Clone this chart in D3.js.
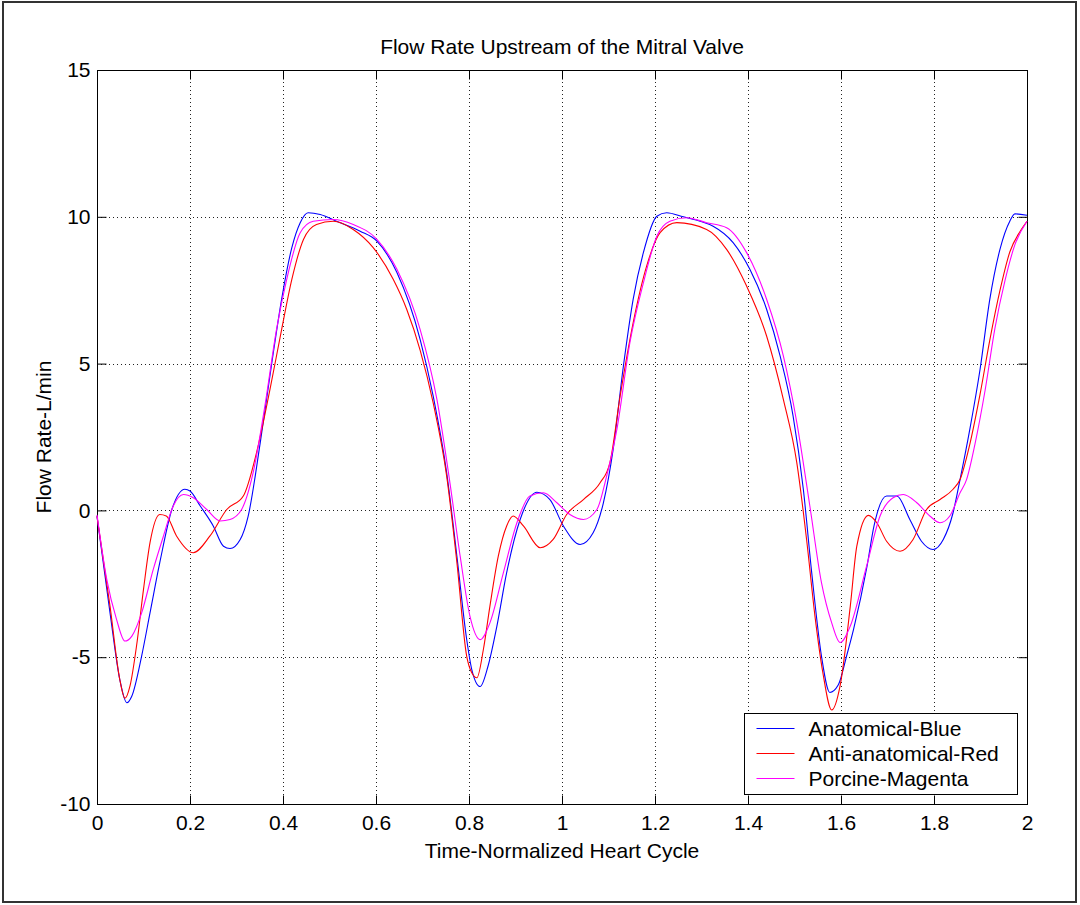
<!DOCTYPE html>
<html>
<head>
<meta charset="utf-8">
<script src="https://cdn.jsdelivr.net/npm/d3@7"></script>
<style>
  body { margin: 0; background: #fff; }
  svg { display: block; }
  text { font-family: "Liberation Sans", Arial, sans-serif; fill: #000; }
</style>
</head>
<body>
<div id="container"></div>
<script>
// values: [time, flow L/min]
var anatomical = [
  [0, -0.2], [0.028, -3.49], [0.049, -5.76], [0.064, -6.55], [0.075, -6.32], [0.096, -4.96],
  [0.114, -3.49], [0.135, -1.78], [0.161, 0.03], [0.189, 0.72], [0.2, 0.66], [0.222, 0.15],
  [0.25, -0.53], [0.272, -1.22], [0.286, -1.3], [0.308, -0.99], [0.325, -0.2], [0.351, 2.3],
  [0.376, 5.03], [0.397, 7.19], [0.419, 8.95], [0.437, 9.8], [0.454, 10.14], [0.48, 10.08],
  [0.515, 9.85], [0.566, 9.51], [0.602, 9.17], [0.645, 8.1], [0.695, 5.82], [0.723, 3.89],
  [0.752, 1.28], [0.774, -1.56], [0.795, -4.39], [0.806, -5.42], [0.824, -6.0], [0.841, -5.3],
  [0.86, -3.94], [0.881, -2.12], [0.91, -0.31], [0.946, 0.62], [0.974, 0.37], [1.003, -0.53],
  [1.039, -1.16], [1.067, -0.76], [1.089, 0.26], [1.11, 2.08], [1.132, 4.91], [1.153, 7.19],
  [1.175, 8.78], [1.204, 10.02], [1.225, 10.14], [1.261, 10.0], [1.297, 9.85], [1.325, 9.68],
  [1.368, 9.12], [1.404, 8.21], [1.44, 6.85], [1.469, 5.26], [1.497, 3.21], [1.519, 0.72],
  [1.537, -2.12], [1.558, -4.96], [1.576, -6.2], [1.594, -5.95], [1.613, -4.9], [1.627, -4.05],
  [1.656, -1.9], [1.671, -0.53], [1.698, 0.49], [1.72, 0.49], [1.748, -0.31], [1.773, -1.05],
  [1.798, -1.33], [1.82, -0.99], [1.841, -0.08], [1.856, 1.05], [1.877, 2.76], [1.899, 4.8],
  [1.92, 7.19], [1.942, 8.9], [1.963, 9.85], [1.974, 10.1], [2.0, 10.05]
];

var antiAnatomical = [
  [0, -0.2], [0.028, -3.26], [0.049, -5.76], [0.06, -6.4], [0.071, -5.98], [0.085, -4.62],
  [0.1, -2.69], [0.114, -1.1], [0.135, -0.14], [0.149, -0.19], [0.171, -0.87], [0.207, -1.44],
  [0.243, -0.87], [0.279, 0.03], [0.315, 0.5], [0.343, 1.96], [0.372, 4.12], [0.397, 6.16],
  [0.419, 7.87], [0.444, 9.23], [0.472, 9.74], [0.508, 9.85], [0.551, 9.57], [0.594, 8.95],
  [0.637, 7.87], [0.666, 6.85], [0.695, 5.45], [0.723, 3.66], [0.752, 1.17], [0.774, -1.78],
  [0.795, -4.96], [0.806, -5.53], [0.817, -5.7], [0.831, -4.73], [0.845, -3.26], [0.863, -1.56],
  [0.881, -0.53], [0.895, -0.19], [0.917, -0.53], [0.953, -1.27], [0.981, -0.99], [1.01, -0.14],
  [1.046, 0.37], [1.082, 0.94], [1.103, 1.62], [1.125, 3.89], [1.153, 6.39], [1.182, 8.32],
  [1.211, 9.46], [1.247, 9.8], [1.311, 9.57], [1.354, 8.89], [1.397, 7.64], [1.44, 5.94],
  [1.476, 3.78], [1.505, 1.62], [1.526, -0.99], [1.544, -3.6], [1.561, -5.53], [1.58, -6.8],
  [1.598, -5.98], [1.62, -3.26], [1.634, -1.22], [1.659, -0.17], [1.677, -0.42], [1.698, -1.05],
  [1.727, -1.39], [1.755, -0.99], [1.784, 0.03], [1.813, 0.37], [1.841, 0.72], [1.856, 1.05],
  [1.877, 2.25], [1.899, 3.95], [1.92, 5.8], [1.942, 7.5], [1.963, 8.8], [1.985, 9.5], [2.0, 9.85]
];

var porcine = [
  [0, -0.15], [0.021, -2.35], [0.042, -3.71], [0.06, -4.45], [0.075, -4.28], [0.096, -3.49],
  [0.121, -2.01], [0.143, -0.87], [0.164, 0.15], [0.186, 0.54], [0.207, 0.43], [0.236, 0.03],
  [0.265, -0.36], [0.286, -0.31], [0.311, 0.03], [0.336, 1.3], [0.361, 3.55], [0.386, 6.16],
  [0.408, 7.87], [0.437, 9.46], [0.465, 9.85], [0.508, 9.91], [0.551, 9.74], [0.602, 9.23],
  [0.645, 8.21], [0.695, 6.16], [0.731, 3.78], [0.759, 0.94], [0.781, -1.56], [0.802, -3.6],
  [0.824, -4.4], [0.845, -3.83], [0.874, -2.12], [0.903, -0.42], [0.931, 0.49], [0.96, 0.6],
  [0.989, 0.26], [1.017, -0.14], [1.046, -0.31], [1.075, 0.03], [1.096, 1.17], [1.118, 2.76],
  [1.146, 5.71], [1.175, 7.75], [1.204, 9.34], [1.232, 9.85], [1.268, 9.97], [1.311, 9.8],
  [1.354, 9.63], [1.397, 8.78], [1.44, 7.19], [1.476, 5.26], [1.505, 2.99], [1.533, 0.15],
  [1.558, -2.46], [1.58, -3.83], [1.598, -4.5], [1.62, -3.94], [1.655, -1.9], [1.684, -0.19],
  [1.712, 0.43], [1.734, 0.54], [1.763, 0.26], [1.791, -0.19], [1.813, -0.42], [1.834, -0.19],
  [1.856, 0.6], [1.87, 1.05], [1.888, 2.25], [1.91, 4.1], [1.931, 6.2], [1.953, 7.85],
  [1.974, 9.05], [2.0, 9.85]
];

var seriesNames = ["Anatomical-Blue", "Anti-anatomical-Red", "Porcine-Magenta"];
var seriesColors = ["#0000ff", "#ff0000", "#ff00ff"];
var xTicks = [0, 0.2, 0.4, 0.6, 0.8, 1, 1.2, 1.4, 1.6, 1.8, 2];
var yTicks = [-10, -5, 0, 5, 10, 15];

var W = 1080, H = 905;
// plot box edges (named so they don't clash with window.top)
var boxL = 97, boxR = 1027, boxT = 70, boxB = 804;
var tickLen = 9;

var svg = d3.select("#container")
  .append("svg")
  .attr("width", W)
  .attr("height", H);

// figure frame
svg.append("rect")
  .attr("x", 3).attr("y", 2)
  .attr("width", 1073).attr("height", 900)
  .attr("fill", "#fff")
  .attr("stroke", "#333")
  .attr("stroke-width", 2);

var x = d3.scaleLinear().domain([0, 2]).range([boxL, boxR]);
var y = d3.scaleLinear().domain([-10, 15]).range([boxB, boxT]);

var grid = svg.append("g").attr("class", "grid")
  .attr("stroke", "#222")
  .attr("stroke-width", 1)
  .attr("stroke-dasharray", "1,3");

grid.selectAll(".vgrid")
  .data(xTicks.slice(1, -1))
  .enter().append("line")
    .attr("x1", function(d) { return Math.round(x(d)) + 0.5; })
    .attr("x2", function(d) { return Math.round(x(d)) + 0.5; })
    .attr("y1", boxT).attr("y2", boxB);

grid.selectAll(".hgrid")
  .data(yTicks.slice(1, -1))
  .enter().append("line")
    .attr("y1", function(d) { return Math.round(y(d)) + 0.5; })
    .attr("y2", function(d) { return Math.round(y(d)) + 0.5; })
    .attr("x1", boxL).attr("x2", boxR);

// plain hyphen for negatives, like the original
var fmt = function(d) { return String(d); };

// axes: bottom/left with labels, top/right ticks only; all ticks pointing in
var xAxis = d3.axisBottom(x).tickValues(xTicks).tickSizeInner(-tickLen).tickSizeOuter(0)
  .tickPadding(11).tickFormat(fmt);
var yAxis = d3.axisLeft(y).tickValues(yTicks).tickSizeInner(-tickLen).tickSizeOuter(0)
  .tickPadding(7).tickFormat(fmt);

var gx = svg.append("g")
  .attr("transform", "translate(0," + (boxB + 0.5) + ")")
  .call(xAxis);
var gy = svg.append("g")
  .attr("transform", "translate(" + (boxL + 0.5) + ",0)")
  .call(yAxis);
svg.append("g")
  .attr("transform", "translate(0," + (boxT + 0.5) + ")")
  .call(d3.axisTop(x).tickValues(xTicks).tickSizeInner(-tickLen).tickSizeOuter(0).tickFormat(""));
svg.append("g")
  .attr("transform", "translate(" + (boxR + 0.5) + ",0)")
  .call(d3.axisRight(y).tickValues(yTicks).tickSizeInner(-tickLen).tickSizeOuter(0).tickFormat(""));

svg.selectAll(".domain").remove();
svg.selectAll(".tick line").attr("stroke", "#000");
gx.selectAll("text").style("font-size", "21px").attr("dy", "0.71em");
gy.selectAll("text").style("font-size", "21px");

// box
svg.append("rect")
  .attr("x", boxL + 0.5).attr("y", boxT + 0.5)
  .attr("width", boxR - boxL).attr("height", boxB - boxT)
  .attr("fill", "none")
  .attr("stroke", "#000");

var line = d3.line()
  .x(function(d) { return x(d[0]); })
  .y(function(d) { return y(d[1]); })
  .curve(d3.curveMonotoneX);

var plotData = [anatomical, antiAnatomical, porcine];
svg.append("g")
  .selectAll(".series")
  .data(plotData)
  .enter().append("path")
    .classed("series", true)
    .attr("d", line)
    .attr("fill", "none")
    .attr("stroke", function(d, i) { return seriesColors[i]; })
    .attr("stroke-width", 1.1);

// legend
var legend = svg.append("g")
  .attr("transform", "translate(744.5,713.5)");
legend.append("rect")
  .attr("width", 273).attr("height", 81)
  .attr("fill", "#fff")
  .attr("stroke", "#000");
var legendItem = legend.selectAll(".legendItem")
  .data(seriesNames)
  .enter().append("g")
    .attr("transform", function(d, i) { return "translate(0," + (15 + i * 25) + ")"; });
legendItem.append("line")
  .attr("x1", 12).attr("x2", 50)
  .attr("stroke", function(d, i) { return seriesColors[i]; });
legendItem.append("text")
  .attr("x", 64).attr("y", 7.5)
  .style("font-size", "21px")
  .text(function(d) { return d; });

// title and axis labels
svg.append("text")
  .attr("x", (boxL + boxR) / 2).attr("y", 54)
  .attr("text-anchor", "middle")
  .style("font-size", "21px")
  .text("Flow Rate Upstream of the Mitral Valve");
svg.append("text")
  .attr("x", (boxL + boxR) / 2).attr("y", 858)
  .attr("text-anchor", "middle")
  .style("font-size", "21px")
  .text("Time-Normalized Heart Cycle");
svg.append("text")
  .attr("transform", "translate(51," + ((boxT + boxB) / 2) + ") rotate(-90)")
  .attr("text-anchor", "middle")
  .style("font-size", "21px")
  .text("Flow Rate-L/min");
</script>
</body>
</html>
